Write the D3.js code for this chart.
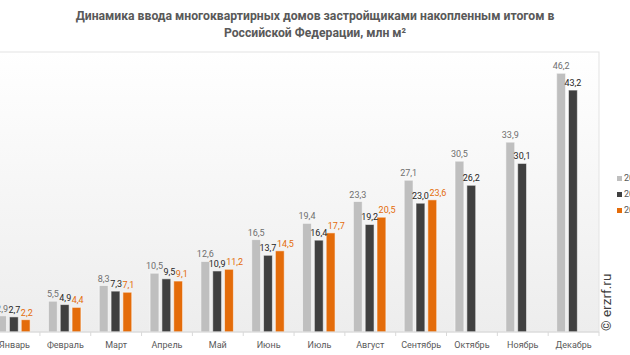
<!DOCTYPE html>
<html><head><meta charset="utf-8">
<script src="https://cdn.jsdelivr.net/npm/d3@7"></script>
<style>body{margin:0;background:#fff;overflow:hidden}svg{display:block}text{font-family:Roboto,"DejaVu Sans",sans-serif}</style>
</head><body><svg id="c" width="630" height="355"></svg>
<script>
const categories = ["Январь","Февраль","Март","Апрель","Май","Июнь","Июль","Август","Сентябрь","Октябрь","Ноябрь","Декабрь"];
const seriesNames = ["2021","2022","2023"];
const s2021 = [2.9,5.5,8.3,10.5,12.6,16.5,19.4,23.3,27.1,30.5,33.9,46.2];
const s2022 = [2.7,4.9,7.3,9.5,10.9,13.7,16.4,19.2,23.0,26.2,30.1,43.2];
const s2023 = [2.2,4.4,7.1,9.1,11.2,14.5,17.7,20.5,23.6];
const seriesValues = [s2021, s2022, s2023];
const colors = ["#bfbfbf","#404040","#e46c0a"];
const labelColors = ["#6f6f6f","#262626","#e46c0a"];
const title = ["Динамика ввода многоквартирных домов застройщиками накопленным итогом в","Российской  Федерации, млн м²"];

const svg = d3.select("#c");
const pL = -10.9, pR = 599, pT = 52, pB = 332;
const x = d3.scaleBand().domain(categories).range([pL, pR]).padding(0);
const xs = d3.scaleBand().domain(seriesNames).range([8.5, 41]).paddingInner(0.25);
const y = d3.scaleLinear().domain([0, 50]).range([pB, pT]);

const defs = svg.append("defs");
const g = defs.append("linearGradient").attr("id","bg").attr("x1",0).attr("y1",0).attr("x2",0).attr("y2",1);
g.append("stop").attr("offset","0%").attr("stop-color","#ffffff");
g.append("stop").attr("offset","100%").attr("stop-color","#ededed");
svg.append("rect").attr("x",pL).attr("y",pT).attr("width",pR-pL).attr("height",pB-pT).attr("fill","url(#bg)").attr("stroke","#e3e3e3").attr("stroke-width",1);

// title
svg.append("g").selectAll("text").data(title).join("text")
  .attr("x",315).attr("y",(d,i)=>20+i*17).attr("text-anchor","middle")
  .attr("font-size",12.2).attr("font-weight",700).attr("fill","#595959").text(d=>d);

// bars
const labelsByCat = categories.map(()=>[]);
const groups = svg.append("g").selectAll("g").data(seriesValues).join("g");
groups.each(function(vals, si){
  const gg = d3.select(this);
  const data = vals.map((v,i)=>({v, c:categories[i], i}));
  gg.selectAll("rect").data(data).join("rect")
    .attr("x", d=>x(d.c)+xs(seriesNames[si]))
    .attr("y", d=>y(d.v))
    .attr("width", xs.bandwidth())
    .attr("height", d=>pB-y(d.v))
    .attr("fill", colors[si]).attr("stroke","#ffffff").attr("stroke-opacity",0.55).attr("stroke-width",1);
});
const labelLayer = svg.append("g");
seriesValues.forEach((vals, si)=>{
  vals.forEach((v,i)=>{
    const c = categories[i];
    const t = labelLayer.append("text")
      .attr("x", x(c)+xs(seriesNames[si])+xs.bandwidth()/2)
      .attr("y", y(v)-4)
      .attr("text-anchor","middle").attr("font-size",9).attr("fill",labelColors[si])
      .text(d3.format(".1f")(v).replace(".",","));
    labelsByCat[i].push(t);
  });
});
// simple overlap avoidance: push later labels right
labelsByCat.forEach(list=>{
  for(let k=1;k<list.length;k++){
    const prev = list[k-1].node().getBBox();
    const cur = list[k].node().getBBox();
    const vOverlap = cur.y < prev.y+prev.height-2 && prev.y < cur.y+cur.height-2;
    if(vOverlap && cur.x < prev.x+prev.width+0.5){
      const shift = prev.x+prev.width+0.5-cur.x;
      list[k].attr("x", +list[k].attr("x")+shift);
    }
  }
});

// axis
const ax = svg.append("g").attr("transform",`translate(0,${pB})`);
ax.append("line").attr("x1",pL).attr("x2",pR).attr("stroke","#d9d9d9");
ax.selectAll("line.t").data(categories).join("line").attr("class","t")
  .attr("x1",d=>x(d)+x.bandwidth()).attr("x2",d=>x(d)+x.bandwidth())
  .attr("y1",0).attr("y2",4).attr("stroke","#d9d9d9");
ax.selectAll("text").data(categories).join("text")
  .attr("x",d=>x(d)+x.bandwidth()/2).attr("y",16).attr("text-anchor","middle")
  .attr("font-size",9).attr("fill","#595959").text(d=>d);

// watermark
svg.append("text").attr("transform","translate(611,331) rotate(-90)").attr("font-size",13.5)
  .attr("fill","#404040").text("© erzrf.ru");

// legend
const lg = svg.append("g").selectAll("g").data(seriesNames).join("g")
  .attr("transform",(d,i)=>`translate(617,${181+i*16})`);
lg.append("rect").attr("x",0).attr("y",-5).attr("width",5).attr("height",5).attr("fill",(d,i)=>colors[i]);
lg.append("text").attr("x",7).attr("y",0).attr("font-size",9).attr("fill","#595959").text(d=>d);
</script></body></html>
